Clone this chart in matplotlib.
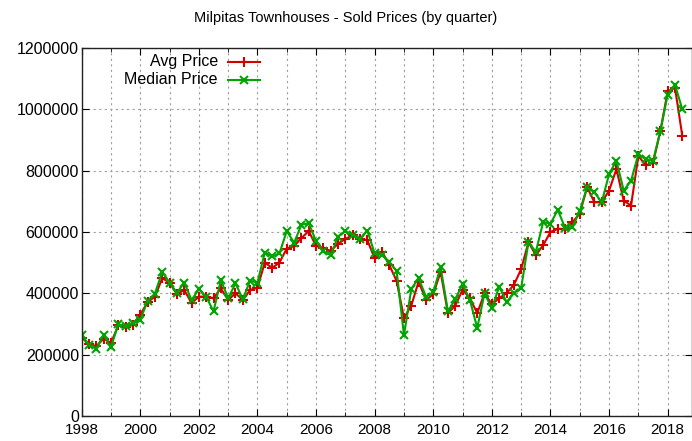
import numpy as np
import matplotlib
matplotlib.use("Agg")
import matplotlib.pyplot as plt
from matplotlib.ticker import MultipleLocator, FuncFormatter

plt.rcParams['font.family'] = ['Liberation Sans', 'DejaVu Sans']

# quarterly data, 1998 Q1 .. 2018 Q3
start_year = 1998
avg_price = [
    255000, 235000, 227000, 252000,
    238000, 295000, 289000, 297000,
    330000, 371000, 389000, 449000,
    435000, 397000, 411000, 368000,
    389000, 389000, 384000, 416000,
    378000, 400000, 378000, 411000,
    418000, 500000, 483000, 500000,
    546000, 554000, 580000, 603000,
    554000, 548000, 538000, 562000,
    577000, 590000, 577000, 573000,
    514000, 536000, 492000, 440000,
    319000, 360000, 438000, 378000,
    397000, 470000, 335000, 360000,
    411000, 384000, 335000, 400000,
    364000, 384000, 400000, 427000,
    479000, 567000, 524000, 557000,
    600000, 610000, 610000, 632000,
    660000, 746000, 697000, 697000,
    735000, 805000, 702000, 686000,
    848000, 818000, 825000, 929000,
    1059000, 1070000, 913000,
]
median_price = [
    263000, 232000, 219000, 265000,
    224000, 299000, 292000, 303000,
    313000, 375000, 399000, 470000,
    435000, 401000, 435000, 378000,
    413000, 389000, 341000, 443000,
    384000, 432000, 381000, 441000,
    435000, 533000, 520000, 530000,
    603000, 565000, 623000, 629000,
    570000, 537000, 524000, 585000,
    603000, 590000, 578000, 604000,
    530000, 525000, 503000, 472000,
    263000, 414000, 449000, 389000,
    403000, 486000, 341000, 381000,
    429000, 378000, 287000, 400000,
    351000, 422000, 371000, 400000,
    418000, 567000, 535000, 632000,
    627000, 672000, 613000, 616000,
    668000, 746000, 729000, 697000,
    789000, 832000, 735000, 767000,
    854000, 837000, 832000, 929000,
    1048000, 1080000, 1000000,
]
quarters = start_year + np.arange(len(avg_price)) * 0.25

red = '#d40000'
green = '#00a400'

fig = plt.figure(figsize=(6.92, 4.41), dpi=100)
ax = fig.add_axes([0.118, 0.057, 0.882, 0.834])

ax.plot(quarters, avg_price, color=red, lw=1.5, marker='+', ms=7, mew=1.5)
ax.plot(quarters, median_price, color=green, lw=1.5, marker='x', ms=5.5, mew=1.5)

ax.set_xlim(1998, 2018.83)
ax.set_ylim(0, 1200000)
ax.xaxis.set_major_locator(MultipleLocator(2))
ax.xaxis.set_minor_locator(MultipleLocator(1))
ax.yaxis.set_major_locator(MultipleLocator(200000))
ax.yaxis.set_major_formatter(FuncFormatter(lambda v, p: '%d' % v))
ax.xaxis.set_major_formatter(FuncFormatter(lambda v, p: '%d' % v))

ax.grid(True, which='both', axis='x', color='#a0a0a0', ls=(0, (2, 3)), lw=0.8)
ax.grid(True, which='major', axis='y', color='#a0a0a0', ls=(0, (2, 3)), lw=0.8)
ax.set_axisbelow(True)

ax.tick_params(which='both', direction='in', top=True, right=True,
               labelsize=11.5, colors='black')
ax.tick_params(axis='x', labelsize=11)
ax.tick_params(which='major', length=5)
ax.tick_params(which='minor', length=3)
ax.tick_params(axis='y', pad=2)
ax.tick_params(axis='x', pad=5)
for s in ax.spines.values():
    s.set_color('#222222')
    s.set_linewidth(1.0)

# gnuplot style key: right-aligned text, sample to the right
key_rows = [("Avg Price", red, '+', 7), ("Median Price", green, 'x', 5.5)]
for i, (label, c, m, ms) in enumerate(key_rows):
    y = 0.963 - i * 0.049
    ax.text(0.2233, y, label, transform=ax.transAxes, ha='right', va='center',
            fontsize=11.5)
    ax.plot([0.2397, 0.2921], [y, y], transform=ax.transAxes, color=c, lw=1.5,
            clip_on=False)
    ax.plot([0.266], [y], transform=ax.transAxes, color=c, marker=m, ms=ms,
            mew=1.5, clip_on=False)

fig.text(0.5, 1 - 18 / 441, "Milpitas Townhouses - Sold Prices (by quarter)",
         ha='center', va='center', fontsize=10.5)

fig.savefig("out.png", dpi=100)
